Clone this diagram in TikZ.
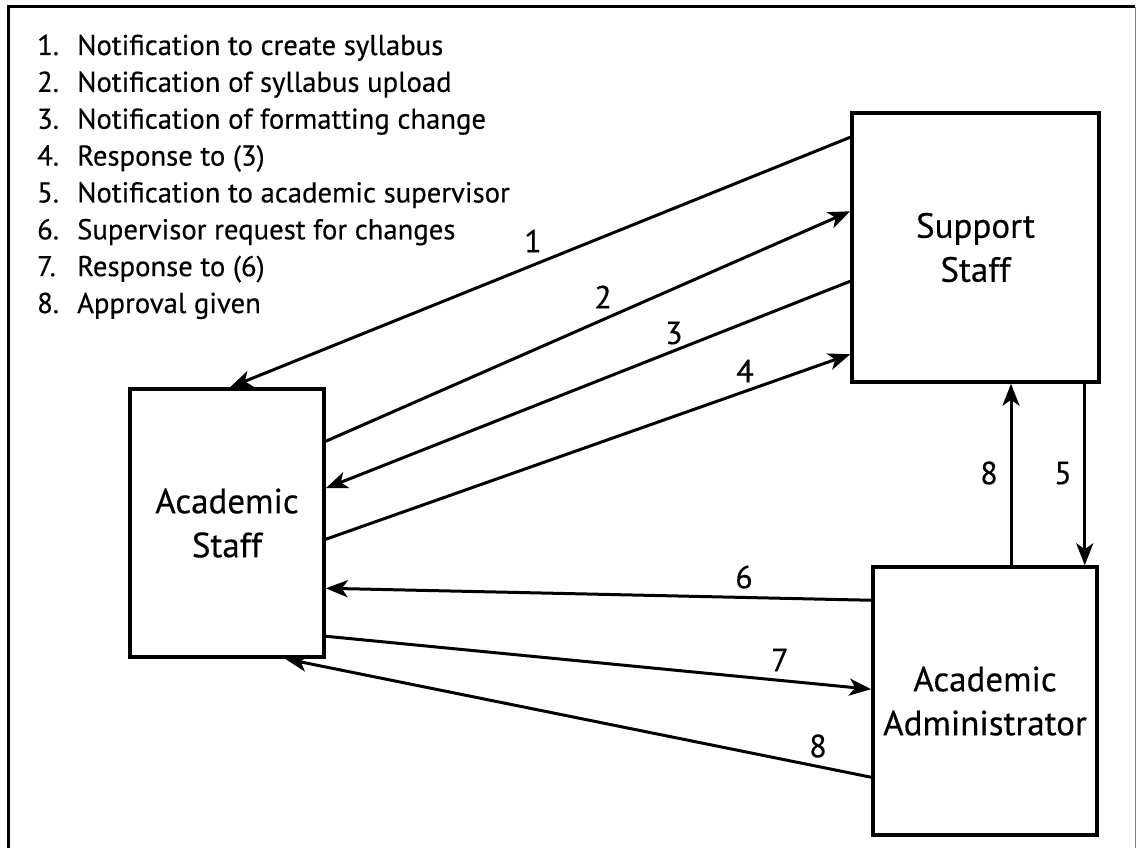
\documentclass[tikz,border=0pt]{standalone}
\usepackage{fontspec}
\setmainfont{PT Sans}[FakeBold=0.4]
\usetikzlibrary{arrows.meta}

\begin{document}
\begin{tikzpicture}[x=1pt,y=-1pt,>={Stealth[length=22pt,width=17pt,inset=6pt]},
  box/.style={draw,line width=3.5pt,align=center,font=\fontsize{35}{44}\selectfont},
  flow/.style={->,line width=3pt},
  num/.style={font=\fontsize{32}{36}\selectfont,inner sep=0pt},
  legend/.style={font=\fontsize{28.7}{32}\selectfont,inner sep=0pt,anchor=base west}]
  \useasboundingbox (0,0) rectangle (1137,848);
  \draw[line width=3pt] (8,848) -- (8,7) -- (1135,7);
  \draw[gray,line width=1pt] (1135,7) -- (1135,848);

  % legend
  \foreach \i/\txt in {1/Notification to create syllabus,
      2/Notification of syllabus upload,
      3/Notification of formatting change,
      4/Response to (3),
      5/Notification to academic supervisor,
      6/Supervisor request for changes,
      7/Response to (6),
      8/Approval given} {
    \node[legend] (num\i) at (37,18.14+36.86*\i) {\i.};
    \node[legend] (item\i) at (77,18.14+36.86*\i) {\txt};
  }

  % boxes
  \node[box,minimum width=247pt,minimum height=269pt] (ss) at (975.5,247.5) {Support\\Staff};
  \node[box,minimum width=194pt,minimum height=268pt] (as) at (227,523) {Academic\\Staff};
  \node[box,minimum width=224pt,minimum height=268pt] (aa) at (985,701) {Academic\\Administrator};

  \coordinate (s5) at ([xshift=-16pt]ss.south east);
  \coordinate (s8) at ([xshift=26pt]aa.north);

  % flows
  \draw[flow] ([yshift=-26pt]ss.north west) -- ([xshift=3pt]as.north);
  \draw[flow] ([yshift=-54pt]as.north east) -- ([yshift=-100pt]ss.north west);
  \draw[flow] ([yshift=-170pt]ss.north west) -- ([yshift=-101pt]as.north east);
  \draw[flow] ([yshift=-152pt]as.north east) -- ([yshift=-243pt]ss.north west);
  \draw[flow] (s5) -- (s5 |- aa.north);
  \draw[flow] (s8) -- (s8 |- ss.south);
  \draw[flow] ([yshift=-35pt]aa.north west) -- ([yshift=-201pt]as.north east);
  \draw[flow] ([yshift=-249pt]as.north east) -- ([yshift=-124pt]aa.north west);
  \draw[flow] ([yshift=-212pt]aa.north west) -- ([xshift=58pt]as.south);

  % labels
  \node[num] (l1) at (533,241) {1};
  \node[num] (l2) at (603,297) {2};
  \node[num] (l3) at (674,333) {3};
  \node[num] (l4) at (745,371) {4};
  \node[num] (l5) at (1063,473) {5};
  \node[num] (l8a) at (989,473) {8};
  \node[num] (l6) at (744,577) {6};
  \node[num] (l7) at (780,660) {7};
  \node[num] (l8b) at (818,746) {8};
\end{tikzpicture}
\end{document}
